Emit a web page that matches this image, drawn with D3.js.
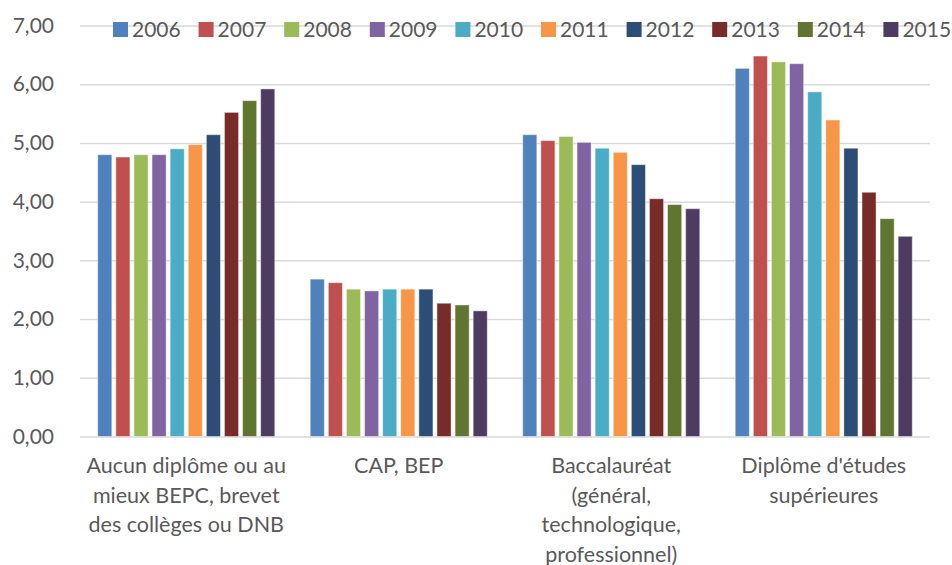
<!DOCTYPE html>
<html><head><meta charset="utf-8">
<script src="https://cdn.jsdelivr.net/npm/d3@7"></script>
<style>body{margin:0;background:#fff}svg{display:block}text{font-family:Lato,"Open Sans",sans-serif;fill:#595959}</style>
</head><body>
<script>
const categories = [
  ["Aucun diplôme ou au", "mieux BEPC, brevet", "des collèges ou DNB"],
  ["CAP, BEP"],
  ["Baccalauréat", "(général,", "technologique,", "professionnel)"],
  ["Diplôme d'études", "supérieures"]
];
const years = ["2006","2007","2008","2009","2010","2011","2012","2013","2014","2015"];
const colors = ["#4F81BD","#C0504D","#9BBB59","#8064A2","#4BACC6","#F79646","#2C4D75","#772C2A","#5F7530","#4D3B62"];
const aucun = [4.80,4.76,4.80,4.80,4.90,4.97,5.14,5.52,5.72,5.92];
const cap   = [2.68,2.62,2.51,2.48,2.51,2.51,2.51,2.27,2.24,2.14];
const bac   = [5.14,5.04,5.11,5.01,4.91,4.84,4.63,4.05,3.95,3.88];
const sup   = [6.27,6.48,6.38,6.35,5.87,5.39,4.91,4.16,3.71,3.41];
const seriesByCat = [aucun, cap, bac, sup];
const yTicks = [0,1,2,3,4,5,6,7];

const W = 952, H = 565;
const m = {left:80, right:22, top:25.5, bottom:128.5};
const svg = d3.select("body").append("svg").attr("width",W).attr("height",H);
const x0 = d3.scaleBand().domain(d3.range(categories.length)).range([m.left, W-m.right]).paddingInner(0.148).paddingOuter(0.074);
const x1 = d3.scaleBand().domain(years).range([0, x0.bandwidth()]).paddingInner(0.22).paddingOuter(0.11);
const y = d3.scaleLinear().domain([0,7]).range([H-m.bottom, m.top]);

// gridlines
const yAxis = d3.axisLeft(y).tickValues(yTicks).tickSize(-(W-m.left-m.right)).tickPadding(26)
  .tickFormat(d => d3.format(".2f")(d).replace(".", ","));
const ga = svg.append("g").attr("transform",`translate(${m.left},0)`).call(yAxis);
ga.select(".domain").remove();
ga.selectAll(".tick line").attr("stroke","#d9d9d9").attr("stroke-width",1.5);
ga.selectAll(".tick text").style("font-size","21px").attr("fill","#595959");

// bars
const g = svg.append("g");
categories.forEach((c,ci) => {
  g.selectAll(null).data(seriesByCat[ci]).enter().append("rect")
    .attr("x",(d,i)=>x0(ci)+x1(years[i]))
    .attr("y",d=>y(d))
    .attr("width",x1.bandwidth())
    .attr("height",d=>y(0)-y(d))
    .attr("fill",(d,i)=>colors[i])
    .attr("stroke","rgba(255,255,255,0.45)").attr("stroke-width",1);
});

// category labels
const xl = svg.append("g");
categories.forEach((lines,ci) => {
  const cx = x0(ci)+x0.bandwidth()/2;
  const t = xl.append("text").attr("text-anchor","middle").style("font-size","21.5px")
    .attr("x", cx).attr("y", 473);
  lines.forEach((l,li)=> t.append("tspan").attr("x",cx).attr("dy", li?29.5:0).text(l));
});

// legend
const lg = svg.append("g").attr("transform","translate(113,0)");
years.forEach((yr,i)=>{
  const it = lg.append("g").attr("transform",`translate(${i*85.6},0)`);
  it.append("rect").attr("x",0).attr("y",22).attr("width",15).attr("height",15).attr("fill",colors[i]);
  it.append("text").attr("x",19).attr("y",36.5).style("font-size","21px").text(yr);
});
</script>
</body></html>
